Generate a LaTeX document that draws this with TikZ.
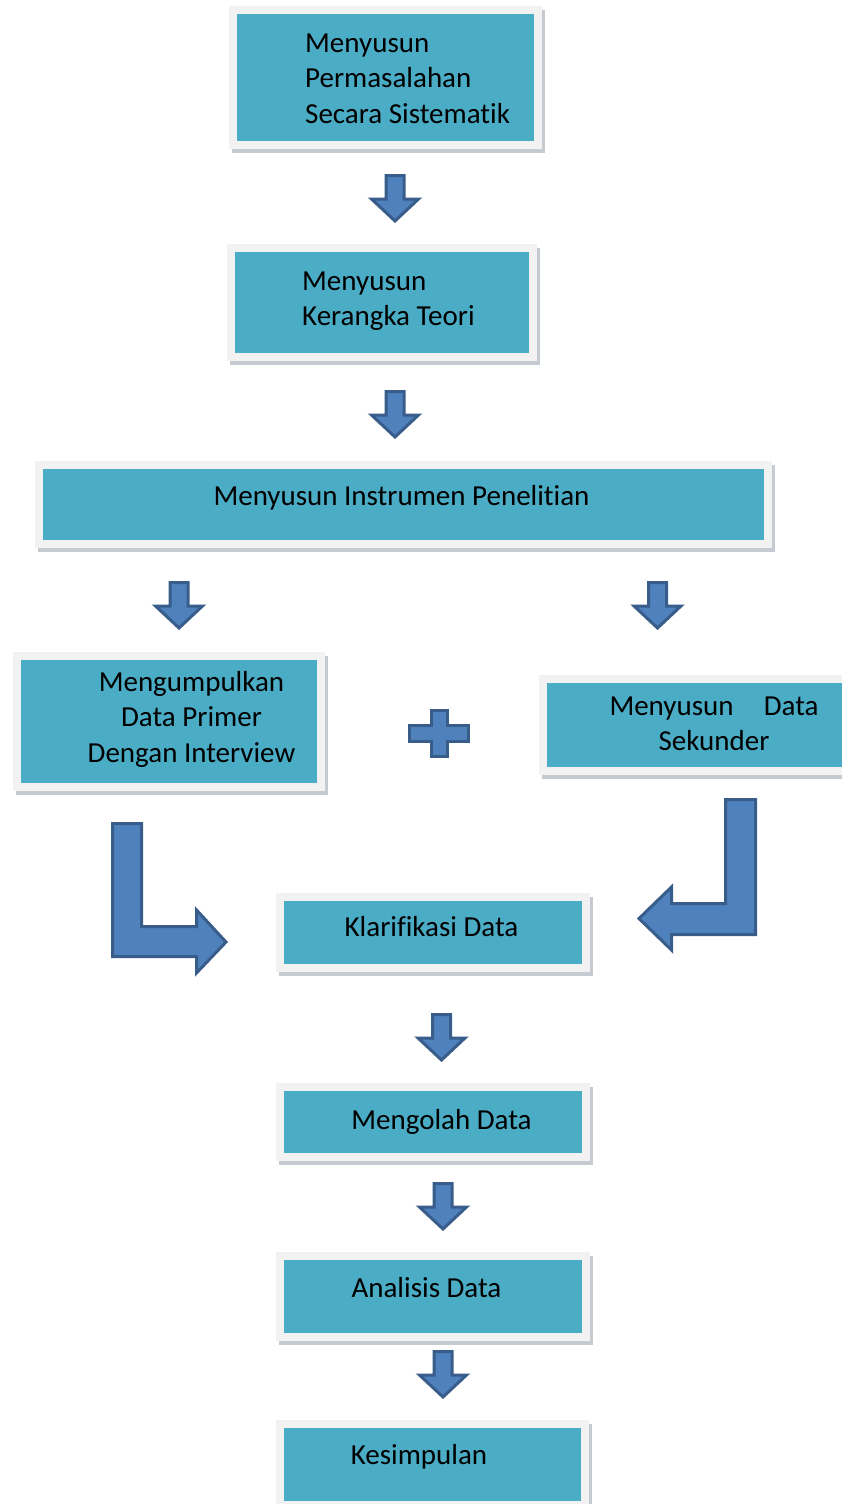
\documentclass[tikz,border=0pt]{standalone}
\usepackage{fontspec}
\setmainfont[Ligatures=NoCommon]{Carlito}
\usetikzlibrary{shadows}
\definecolor{boxTeal}{HTML}{4BACC6}
\definecolor{boxFrame}{HTML}{F2F2F2}
\definecolor{boxShade}{HTML}{7F8C96}
\definecolor{arrFill}{HTML}{4F81BD}
\definecolor{arrLine}{HTML}{385D8A}
\begin{document}
\begin{tikzpicture}[x=1pt,y=-1pt,
  bx/.style={draw=boxFrame, line width=8pt, fill=boxTeal, inner sep=0pt,
             drop shadow={shadow xshift=3pt, shadow yshift=-4pt, opacity=0.45,
                          fill=boxShade, draw=boxShade, line width=8pt}},
  tx/.style={inner sep=0pt, font=\fontsize{29}{35.5}\selectfont, text=black},
  ar/.style={draw=arrLine, fill=arrFill, line width=3pt, line join=miter},
  dn/.pic={\draw[ar] (-9,1.5) -- (9,1.5) -- (9,25) -- (23.5,25) -- (0,47)
                     -- (-23.5,25) -- (-9,25) -- cycle;}]
  \useasboundingbox (0,0) rectangle (842,1504);
  % boxes (multi-line texts sit on the baseline of their last line)
  \node[bx, minimum width=305, minimum height=134.7] (perm) at (385.8,77.7) {};
  \node[tx, anchor=base west, align=left] (permT) at (305,123)
       {Menyusun\\Permasalahan\\Secara Sistematik};
  \node[bx, minimum width=302, minimum height=108.5] (teori) at (382,302.25) {};
  \node[tx, anchor=base west, align=left] (teoriT) at (302,325.7)
       {Menyusun\\Kerangka Teori};
  \node[bx, minimum width=728.5, minimum height=79.5] (instr) at (403.25,504.25) {};
  \node[tx, anchor=base] (instrT) at (401.5,505) {Menyusun Instrumen Penelitian};
  \node[bx, minimum width=303.8, minimum height=131.2] (prim) at (168.6,721.1) {};
  \node[tx, anchor=base, align=center] (primT) at (191.5,762)
       {Mengumpulkan\\Data Primer\\Dengan Interview};
  \node[bx, minimum width=304, minimum height=92] (sek) at (694.5,725) {};
  \node[tx, anchor=base, align=center] (sekT) at (714,750.7)
       {\makebox[209pt][s]{Menyusun Data}\\Sekunder};
  \node[bx, minimum width=305.5, minimum height=70.5] (klar) at (432.75,932.25) {};
  \node[tx, anchor=base] (klarT) at (431.5,936.7) {Klarifikasi Data};
  \node[bx, minimum width=305.5, minimum height=69.5] (olah) at (432.75,1121.75) {};
  \node[tx, anchor=base] (olahT) at (441.5,1129) {Mengolah Data};
  \node[bx, minimum width=305.5, minimum height=81] (anal) at (432.75,1296) {};
  \node[tx, anchor=base] (analT) at (426.5,1297) {Analisis Data};
  \node[bx, minimum width=305, minimum height=80.5] (kes) at (432.5,1464.25) {};
  \node[tx, anchor=base] (kesT) at (419,1464) {Kesimpulan};
  % block arrows
  \foreach \px/\py in {395/174, 395/390, 179/581, 657.5/581,
                       441.5/1013, 443/1182, 443/1350}
    \pic at (\px,\py) {dn};
  \draw[ar] (431,710) -- (447,710) -- (447,725) -- (468.5,725) -- (468.5,741)
    -- (447,741) -- (447,756) -- (431,756) -- (431,741) -- (409,741)
    -- (409,725) -- (431,725) -- cycle;
  \draw[ar] (112.5,823.5) -- (141.5,823.5) -- (141.5,926.5) -- (196.5,926.5)
    -- (196.5,910) -- (226,942) -- (196.5,973) -- (196.5,956.5)
    -- (112.5,956.5) -- cycle;
  \draw[ar] (755.5,799.5) -- (725.5,799.5) -- (725.5,903.5) -- (671.5,903.5)
    -- (671.5,887) -- (639,918.5) -- (671.5,950) -- (671.5,934.5)
    -- (755.5,934.5) -- cycle;
\end{tikzpicture}
\end{document}
